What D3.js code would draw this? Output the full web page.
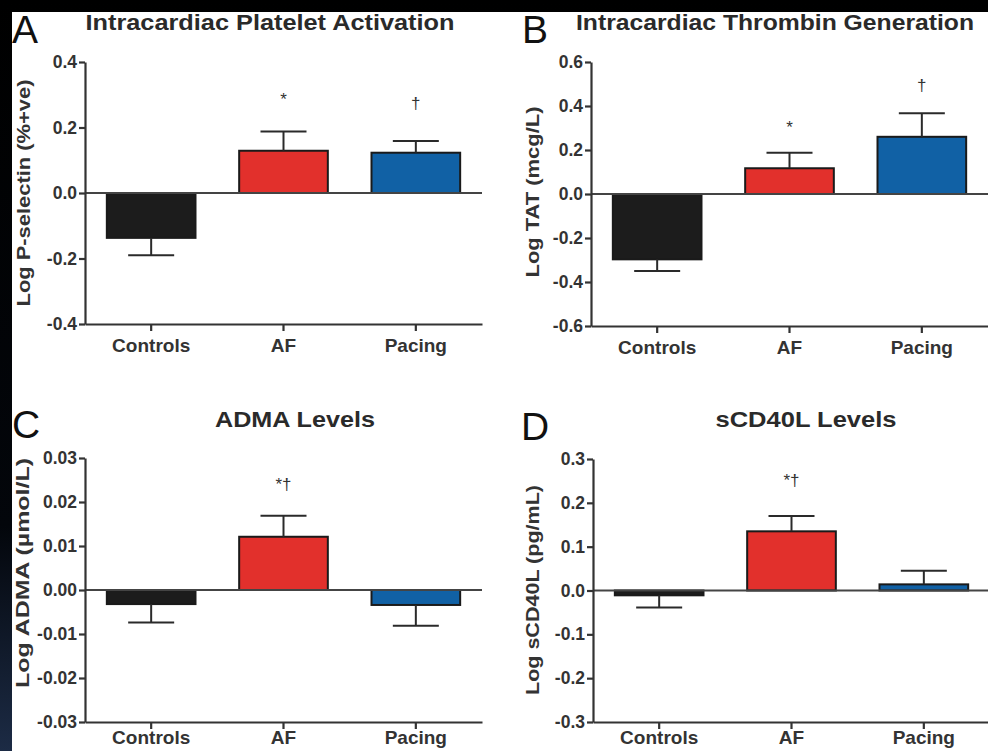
<!DOCTYPE html>
<html>
<head>
<meta charset="utf-8">
<script src="https://cdn.jsdelivr.net/npm/d3@7"></script>
<style>
  html, body { margin: 0; padding: 0; background: #000; }
  svg { display: block; }
  text { font-family: "Liberation Sans", Arial, Helvetica, sans-serif; }
</style>
</head>
<body>
<script>
const W = 988
const H = 751

// groups shared by all four panels
const groups = ['Controls', 'AF', 'Pacing']
const barColors = ['#1c1c1c', '#e2302c', '#1161a5']

// A: platelet activation
const pselMean = [-0.137, 0.129, 0.123]
const pselSem = [0.053, 0.059, 0.036]
const pselNotes = ['', '*', '\u2020']
const pselNoteY = [0, 0.27, 0.258]
const pselTicks = [-0.4, -0.2, 0.0, 0.2, 0.4]

// B: thrombin generation
const tatMean = [-0.297, 0.117, 0.26]
const tatSem = [0.053, 0.071, 0.107]
const tatNotes = ['', '*', '\u2020']
const tatNoteY = [0, 0.277, 0.466]
const tatTicks = [-0.6, -0.4, -0.2, 0.0, 0.2, 0.4, 0.6]

// C: ADMA
const admaMean = [-0.0032, 0.0121, -0.0034]
const admaSem = [0.0042, 0.0048, 0.0047]
const admaNotes = ['', '*\u2020', '']
const admaNoteY = [0, 0.0227, 0]
const admaTicks = [-0.03, -0.02, -0.01, 0.0, 0.01, 0.02, 0.03]

// D: sCD40L
const cdMean = [-0.011, 0.135, 0.014]
const cdSem = [0.028, 0.035, 0.031]
const cdNotes = ['', '*\u2020', '']
const cdNoteY = [0, 0.239, 0]
const cdTicks = [-0.3, -0.2, -0.1, 0.0, 0.1, 0.2, 0.3]

const loc = d3.formatLocale({ decimal: '.', thousands: ',', grouping: [3], currency: ['', ''], minus: '-' })

// tw / yw: measured text widths so the stretched lettering of the figure is kept
const panels = [
  { letter: 'A', lx: 12, ly: 43, title: 'Intracardiac Platelet Activation', tx: 270, ty: 30, tw: 369,
    ylab: 'Log P-selectin (%+ve)', yx: 23, yy: 193, yw: 227,
    mean: pselMean, sem: pselSem, notes: pselNotes, noteY: pselNoteY, ticks: pselTicks, fmt: '.1f',
    x0: 85, y0: 324, y1: 62, pad: 7 },
  { letter: 'B', lx: 522, ly: 43, title: 'Intracardiac Thrombin Generation', tx: 775, ty: 30, tw: 398,
    ylab: 'Log TAT (mcg/L)', yx: 532, yy: 192, yw: 171,
    mean: tatMean, sem: tatSem, notes: tatNotes, noteY: tatNoteY, ticks: tatTicks, fmt: '.1f',
    x0: 591, y0: 326, y1: 62, pad: 7 },
  { letter: 'C', lx: 12, ly: 438, title: 'ADMA Levels', tx: 295, ty: 427, tw: 160,
    ylab: 'Log ADMA (\u00b5mol/L)', yx: 22, yy: 573, yw: 230,
    mean: admaMean, sem: admaSem, notes: admaNotes, noteY: admaNoteY, ticks: admaTicks, fmt: '.2f',
    x0: 85, y0: 722, y1: 458, pad: 1 },
  { letter: 'D', lx: 521, ly: 440, title: 'sCD40L Levels', tx: 806, ty: 427, tw: 181,
    ylab: 'Log sCD40L (pg/mL)', yx: 532, yy: 590, yw: 210,
    mean: cdMean, sem: cdSem, notes: cdNotes, noteY: cdNoteY, ticks: cdTicks, fmt: '.1f',
    x0: 593, y0: 722, y1: 459, pad: 1 }
]

const svg = d3.select('body').append('svg')
  .attr('width', W)
  .attr('height', H)

// slide background: black strips with a navy fade at bottom left
const grad = svg.append('defs').append('linearGradient')
  .attr('id', 'edge').attr('x1', 0).attr('y1', 0).attr('x2', 0).attr('y2', 1)
grad.append('stop').attr('offset', '0%').attr('stop-color', '#000')
grad.append('stop').attr('offset', '70%').attr('stop-color', '#03060b')
grad.append('stop').attr('offset', '100%').attr('stop-color', '#1c2b45')
svg.append('rect').attr('width', W).attr('height', H).attr('fill', 'url(#edge)')
svg.append('rect').attr('x', 12).attr('y', 12).attr('width', W - 12).attr('height', H - 12).attr('fill', '#fff')

const axisCol = '#333'

panels.forEach(p => {
  const g = svg.append('g')

  const x = d3.scaleBand()
    .domain(groups)
    .range([p.x0, p.x0 + 397])
    .paddingInner(0.33)
    .paddingOuter(0.165)

  const lo = p.ticks[0]
  const hi = p.ticks[p.ticks.length - 1]
  const y = d3.scaleLinear().domain([lo, hi]).range([p.y0, p.y1])

  const rows = groups.map((k, i) => ({ k, i, m: p.mean[i], s: p.sem[i], note: p.notes[i], ny: p.noteY[i] }))

  // bars
  g.selectAll('rect.bar').data(rows).enter().append('rect')
    .attr('class', 'bar')
    .attr('x', d => x(d.k))
    .attr('width', x.bandwidth())
    .attr('y', d => y(Math.max(0, d.m)))
    .attr('height', d => Math.abs(y(d.m) - y(0)))
    .attr('fill', d => barColors[d.i])
    .attr('stroke', '#1a1a1a')
    .attr('stroke-width', 2)

  // error bars, one side only (away from zero)
  const eb = d => d.m >= 0 ? d.m + d.s : d.m - d.s
  g.selectAll('line.err').data(rows).enter().append('line')
    .attr('x1', d => x(d.k) + x.bandwidth() / 2)
    .attr('x2', d => x(d.k) + x.bandwidth() / 2)
    .attr('y1', d => y(d.m))
    .attr('y2', d => y(eb(d)))
    .attr('stroke', '#2a2a2a').attr('stroke-width', 2)
  g.selectAll('line.cap').data(rows).enter().append('line')
    .attr('x1', d => x(d.k) + x.bandwidth() / 2 - 23)
    .attr('x2', d => x(d.k) + x.bandwidth() / 2 + 23)
    .attr('y1', d => y(eb(d)))
    .attr('y2', d => y(eb(d)))
    .attr('stroke', '#2a2a2a').attr('stroke-width', 2)

  // zero line
  g.append('line')
    .attr('x1', p.x0).attr('x2', p.x0 + 397)
    .attr('y1', y(0)).attr('y2', y(0))
    .attr('stroke', '#444').attr('stroke-width', 2)

  // y axis
  const ya = g.append('g')
    .attr('transform', `translate(${p.x0},0)`)
    .call(d3.axisLeft(y).tickValues(p.ticks).tickFormat(loc.format(p.fmt)).tickSize(6).tickPadding(2).tickSizeOuter(0))
  // x axis
  const xa = g.append('g')
    .attr('transform', `translate(0,${p.y0})`)
    .call(d3.axisBottom(x).tickSize(7).tickPadding(p.pad).tickSizeOuter(0))
  ;[ya, xa].forEach(a => {
    a.select('.domain').attr('stroke', axisCol).attr('stroke-width', 2.2)
    a.selectAll('.tick line').attr('stroke', axisCol).attr('stroke-width', 2.2)
    a.selectAll('text').attr('fill', '#333').attr('font-weight', 'bold').attr('font-family', '"Liberation Sans", Arial, sans-serif')
  })
  ya.selectAll('text').attr('font-size', 17.5)
  xa.selectAll('text').attr('font-size', 19).attr('dy', '0.75em')

  // significance marks
  g.selectAll('text.note').data(rows.filter(d => d.note)).enter().append('text')
    .attr('x', d => x(d.k) + x.bandwidth() / 2)
    .attr('y', d => y(d.ny))
    .attr('text-anchor', 'middle')
    .attr('font-size', 17)
    .attr('fill', '#333')
    .text(d => d.note)

  // y label
  g.append('text')
    .attr('transform', `translate(${p.yx},${p.yy}) rotate(-90)`)
    .attr('x', -p.yw / 2)
    .attr('dy', '0.35em')
    .attr('font-size', 19)
    .attr('font-weight', 'bold')
    .attr('fill', '#333')
    .attr('textLength', p.yw)
    .attr('lengthAdjust', 'spacingAndGlyphs')
    .text(p.ylab)

  // title
  g.append('text')
    .attr('x', p.tx - p.tw / 2).attr('y', p.ty)
    .attr('font-size', 22)
    .attr('font-weight', 'bold')
    .attr('fill', '#2a2a2a')
    .attr('textLength', p.tw)
    .attr('lengthAdjust', 'spacingAndGlyphs')
    .text(p.title)

  // panel letter
  g.append('text')
    .attr('x', p.lx).attr('y', p.ly)
    .attr('font-size', 39)
    .attr('fill', '#111')
    .text(p.letter)
})
</script>
</body>
</html>
